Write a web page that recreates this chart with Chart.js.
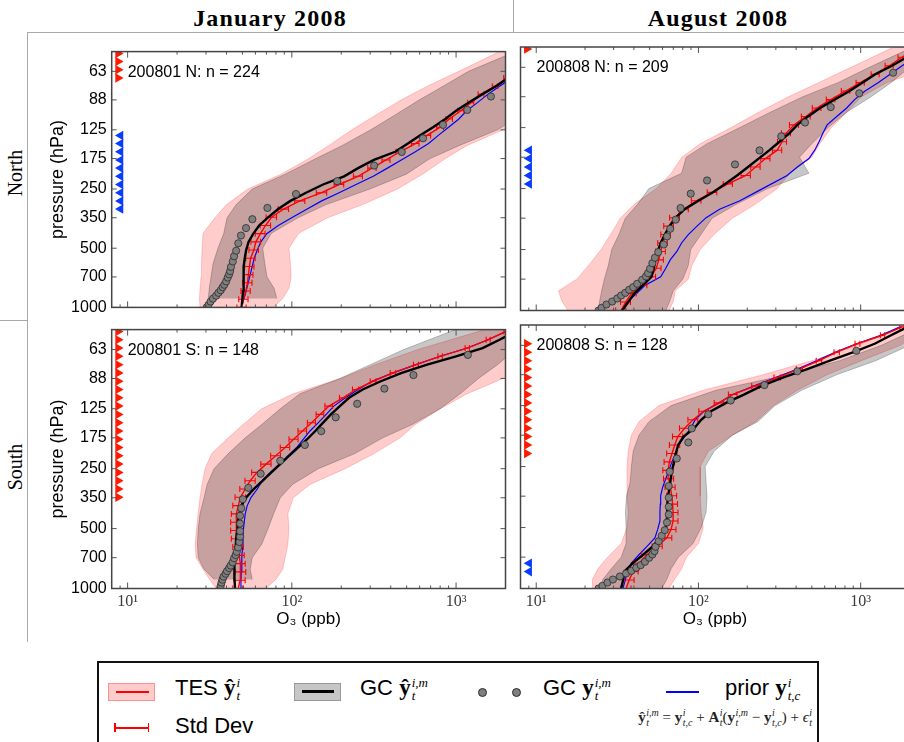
<!DOCTYPE html>
<html>
<head>
<meta charset="utf-8">
<script src="https://cdn.jsdelivr.net/npm/chart.js@4.4.1/dist/chart.umd.min.js"></script>
<style>
html,body{margin:0;padding:0;background:#fff;width:904px;height:742px;overflow:hidden;position:relative;}
canvas{position:absolute;}
.rule{position:absolute;background:#a8a8a8;}
.coltitle{position:absolute;top:6px;font-family:'Liberation Serif',serif;font-weight:bold;font-size:24px;line-height:24px;letter-spacing:1.2px;white-space:nowrap;transform:translateX(-50%);color:#000;}
.rowtitle{position:absolute;font-family:'Liberation Serif',serif;font-size:20px;line-height:20px;white-space:nowrap;transform:translate(-50%,-50%) rotate(-90deg);color:#000;}
.legbox{position:absolute;left:97px;top:661px;width:722px;height:120px;border:2px solid #111;box-sizing:border-box;}
.lt{position:absolute;font-family:'Liberation Sans',Arial,sans-serif;font-size:22px;line-height:22px;white-space:nowrap;color:#000;}
.mb{font-family:'Liberation Serif',serif;font-weight:bold;font-size:23px;}
.ss{display:inline-flex;flex-direction:column;font-family:'Liberation Serif',serif;font-style:italic;font-size:13px;line-height:13px;vertical-align:8px;margin-left:1px;}
.fm{position:absolute;font-family:'Liberation Serif',serif;font-size:15px;line-height:15px;white-space:nowrap;color:#222;}
.fm b{font-weight:bold;}
.fs{display:inline-flex;flex-direction:column;font-style:italic;font-size:10px;line-height:10px;vertical-align:6px;margin-left:0.5px;}
.dot{position:absolute;width:9px;height:9px;border-radius:50%;background:#7f7f7f;border:1px solid #2b2b2b;box-sizing:border-box;}
.blk{position:absolute;}
</style>
</head>
<body>
<div class="rule" style="left:27px;top:32px;width:877px;height:1px"></div>
<div class="rule" style="left:513px;top:0px;width:1px;height:33px"></div>
<div class="rule" style="left:27px;top:32px;width:1px;height:610px"></div>
<div class="rule" style="left:0px;top:320px;width:28px;height:1px"></div>
<div class="coltitle" style="left:270px">January 2008</div>
<div class="coltitle" style="left:718px">August 2008</div>
<div class="rowtitle" style="left:15px;top:173px">North</div>
<div class="rowtitle" style="left:15px;top:467px">South</div>

<canvas id="cTL" width="475" height="285" style="left:40px;top:37px"></canvas>
<canvas id="cTR" width="400" height="285" style="left:515px;top:37px"></canvas>
<canvas id="cBL" width="475" height="325" style="left:40px;top:315px"></canvas>
<canvas id="cBR" width="400" height="325" style="left:515px;top:315px"></canvas>

<div class="legbox"></div>
<div class="blk" style="left:108px;top:683px;width:45px;height:16px;background:rgba(255,0,0,0.2);border:1px solid rgba(255,0,0,0.3)"></div>
<div class="blk" style="left:116px;top:690.5px;width:33px;height:2px;background:#f00"></div>
<div class="lt" style="left:175px;top:676px">TES <span class="mb">ŷ</span><span class="ss"><span>i</span><span>t</span></span></div>
<div class="blk" style="left:294px;top:683px;width:45px;height:16px;background:#c6c6c6;border:1px solid #999"></div>
<div class="blk" style="left:302px;top:690px;width:32px;height:3px;background:#000"></div>
<div class="lt" style="left:360px;top:676px">GC <span class="mb">ŷ</span><span class="ss"><span>i,m</span><span>t</span></span></div>
<div class="dot" style="left:478px;top:687.5px"></div>
<div class="dot" style="left:512px;top:687.5px"></div>
<div class="lt" style="left:543px;top:676px">GC <span class="mb">y</span><span class="ss"><span>i,m</span><span>t</span></span></div>
<div class="blk" style="left:666px;top:691px;width:33px;height:1.5px;background:#00f"></div>
<div class="lt" style="left:725px;top:676px">prior <span class="mb">y</span><span class="ss"><span>i</span><span>t,c</span></span></div>
<div class="blk" style="left:114px;top:727px;width:35px;height:1.5px;background:#f00"></div>
<div class="blk" style="left:114px;top:723px;width:1.5px;height:9px;background:#f00"></div>
<div class="blk" style="left:147.5px;top:723px;width:1.5px;height:9px;background:#f00"></div>
<div class="lt" style="left:175px;top:715px">Std Dev</div>
<div class="fm" style="right:92px;top:708px"><b>ŷ</b><span class="fs"><span>i,m</span><span>t</span></span> = <b>y</b><span class="fs"><span>i</span><span>t,c</span></span> + <b>A</b><span class="fs"><span>i</span><span>t</span></span>(<b>y</b><span class="fs"><span>i,m</span><span>t</span></span> − <b>y</b><span class="fs"><span>i</span><span>t,c</span></span>) + <i>ϵ</i><span class="fs"><span>i</span><span>t</span></span></div>

<script>
// ---------- shared levels and ticks ----------
const tesLevels = [1000, 908.5, 825.4, 749.9, 681.3, 619.0, 562.3, 510.9, 464.2, 421.7, 383.1, 348.1, 316.2, 287.3, 261.0, 237.1, 215.4, 195.7, 177.8, 161.6, 146.8, 133.4, 121.2, 110.1, 100.0, 90.9, 82.5, 75.0, 68.1, 61.9, 56.2, 51.1];
const bandLevels = [1000, 900, 800, 700, 600, 500, 420, 350, 300, 250, 210, 175, 150, 125, 105, 88, 75, 63, 50];
const gcLevels = [1000, 970, 934, 903, 872, 843, 818, 790, 767, 738, 705, 679, 654, 622, 584, 549, 515, 472, 431, 395, 356, 312, 265, 228, 190, 162, 138, 118, 99, 84.6, 67];
const yTickVals = [1000, 700, 500, 350, 250, 175, 125, 88, 63];
const yTickLabels = ['1000', '700', '500', '350', '250', '175', '125', '88', '63'];
const xTickVals = [10, 100, 1000];
const xTickLabels = ['10¹', '10²', '10³'];
const xMinorTicks = [9, 20, 30, 40, 50, 60, 70, 80, 90, 200, 300, 400, 500, 600, 700, 800, 900];
const redMarkX = 8.75;
const blueMarkX = 9.05;

// ---------- January 2008, North ----------
const janN_label = '200801 N: n = 224';
const janN_tesMean = [49.5, 50.8, 52.4, 53.7, 54.4, 55.2, 56.1, 58.7, 60.4, 64.3, 69.2, 75.2, 89, 112, 152, 194, 253, 308, 375, 456, 565, 667, 800, 909, 1070, 1230, 1420, 1730, 2030, 2400, 2800, 3200];
const janN_tesStd = [3.2, 3.3, 3.4, 3.5, 3.6, 3.6, 3.7, 3.9, 4.1, 4.4, 5.0, 5.5, 6.5, 8, 11, 13, 16, 18, 21, 25, 30, 33, 38, 42, 46, 52, 58, 68, 80, 90, 100, 110];
const janN_gcHat = [49.5, 49.9, 50.6, 50.8, 50.8, 51, 51.7, 52.7, 54.5, 58.3, 63.2, 71.7, 82.6, 98, 122, 155, 208, 253, 316, 426, 509, 602, 724, 860, 1000, 1190, 1440, 1750, 2080, 2500, 2900, 3300];
const janN_prior = [49, 51, 52.7, 54.2, 55.8, 57.4, 59, 61.6, 64.8, 70.3, 82.7, 101, 124, 152, 194, 246, 313, 382, 464, 565, 680, 780, 900, 1040, 1160, 1350, 1560, 1840, 2200, 2600, 3000, 3400];
const janN_gcY = [30.3, 31.1, 32.0, 33.1, 34.6, 35.7, 36.9, 37.9, 38.8, 39.8, 40.7, 41.5, 42.1, 42.6, 43.7, 44.5, 45.8, 47.2, 49.0, 52.6, 57.5, 71, 106, 189, 317, 467, 629, 833, 1170, 1630, 2400];
const janN_tesLo = [27.6, 27.4, 27.6, 28.0, 28.2, 28.4, 28.8, 34, 40, 54, 86, 127, 168, 232, 325, 465, 667, 1040, 1840];
const janN_tesHi = [77, 88, 96, 99, 98, 96, 110, 165, 270, 440, 625, 860, 1170, 1930, 2800, 3500, 4200, 5000, 6000];
const janN_gcLo = [null, 31, 31.4, 32.2, 33.1, 35.5, 38.5, 40.3, 45.8, 57.4, 91, 140, 203, 302, 425, 598, 833, 1190, 2300];
const janN_gcHi = [null, 81, 78, 70.6, 68.5, 66.5, 75, 109, 162, 299, 498, 695, 1050, 1790, 2500, 3200, 3800, 4500, 5000];
const janN_redMarks = [68.1, 61.9, 56.2, 51.1];
const janN_blueMarks = [316.2, 287.3, 261.0, 237.1, 215.4, 195.7, 177.8, 161.6, 146.8, 133.4];

// ---------- August 2008, North ----------
const augN_label = '200808 N: n = 209';
const augN_tesMean = [33.3, 35.6, 38.6, 45, 50.9, 55, 56.9, 58.5, 60.2, 62.9, 65.6, 71.4, 81, 97, 121.5, 152, 196, 225, 259, 306, 328, 347, 389, 460, 536, 654, 808, 995, 1230, 1500, 1800, 2120];
const augN_tesStd = [2.4, 2.5, 2.7, 3.1, 3.5, 3.8, 3.9, 4.0, 4.1, 4.3, 4.5, 5, 5.6, 6.6, 8.2, 10, 13, 15, 17, 20, 21, 22, 25, 29, 33, 40, 48, 58, 70, 85, 100, 120];
const augN_gcHat = [33.9, 36.9, 40.2, 45.5, 51.3, 53.1, 54.3, 56.1, 58.5, 62, 66.5, 72.4, 82.2, 100, 123, 146, 173, 202, 235, 274, 316, 363, 407, 474, 562, 693, 854, 1024, 1230, 1560, 1920, 2340];
const augN_prior = [33.4, 36.3, 41.5, 47, 58.5, 62.9, 67, 73.6, 78.7, 86.6, 98, 111.5, 135, 180, 225, 282, 352, 407, 480, 521, 554, 585, 621, 712, 820, 917, 1065, 1280, 1520, 1800, 2150, 2500];
const augN_gcY = [24.2, 25.3, 27.1, 29.4, 31.6, 33.4, 35.4, 37.4, 39.6, 41.9, 45, 47.5, 48.9, 50.3, 52, 53.9, 56.5, 61.1, 64, 67, 72.4, 77.6, 89.6, 113, 168, 238, 324, 454, 654, 980, 1585];
const augN_tesLo = [15.7, 14.4, 13.7, 17.8, 21.0, 25.1, 28.8, 33, 40, 55, 68, 79, 102.6, 159, 235, 359, 550, 872, 1600];
const augN_tesHi = [66, 70, 72, 86.6, 91, 102.6, 125, 162, 223, 306, 366, 500, 560, 660, 820, 1010, 1450, 2700, 3500];
const augN_gcLo = [24, 24.6, 25.3, 26.3, 27.8, 29.2, 32.4, 35.4, 42, 49.5, 78.7, 84, 113, 180, 277, 440, 723, 1130, 2100];
const augN_gcHi = [63, 66.5, 70, 80, 86.6, 89.6, 104, 121.5, 170, 267, 480, 420, 500, 630, 820, 1160, 1540, 2000, 2600];
const augN_redMarks = [51.1];
const augN_blueMarks = [237.1, 215.4, 195.7, 177.8, 161.6];

// ---------- January 2008, South ----------
const janS_label = '200801 S: n = 148';
const janS_tesMean = [47.2, 48.4, 48.8, 48.4, 47.8, 47.2, 46.2, 45.8, 45.8, 46.2, 47.2, 48.7, 52, 55.8, 61.3, 69.7, 79.8, 91, 102.6, 116, 131.8, 148.5, 168, 205, 245, 313, 413, 570, 800, 1170, 1570, 2010];
const janS_tesStd = [3.5, 3.6, 3.6, 3.6, 3.5, 3.5, 3.4, 3.4, 3.4, 3.4, 3.5, 3.6, 3.8, 4.0, 4.4, 5, 5.5, 6, 6.5, 7, 7.5, 8, 9, 10, 11, 13, 16, 20, 25, 35, 45, 55];
const janS_gcHat = [45.1, 44.8, 44.6, 44.8, 45.1, 45.5, 45.8, 46.5, 46.8, 47.9, 49.2, 52.9, 58.6, 66.5, 75, 85, 96, 109, 124, 139, 155, 173, 196, 223, 270, 348, 467, 667, 1000, 1450, 1840, 2300];
const janS_prior = [48.8, 49, 49.2, 49.5, 49.7, 50.2, 50.4, 50.6, 51.3, 52, 53.5, 56.5, 61.6, 66, 74, 83.8, 94.6, 107, 117.6, 129, 145, 162, 180, 212, 253, 308, 413, 570, 800, 1170, 1570, 2010];
const janS_gcY = [36.6, 36.9, 37.3, 37.8, 38.4, 39.5, 40.3, 41.5, 42.4, 43.6, 44.5, 45.5, 46.2, 47.1, 47.9, 48.4, 48.4, 48.4, 48.4, 49.2, 50.3, 54.3, 64.6, 85, 120, 151, 185, 250, 366, 550, 1180];
const janS_tesLo = [34.6, 31.6, 28.8, 26.1, 25.8, 26.3, 26.9, 27.6, 28.4, 29.6, 32.5, 41, 50.5, 65.5, 102, 198, 322, 584, 1500];
const janS_tesHi = [69.5, 80, 88, 91, 94.6, 96, 94.6, 102, 129, 211, 317, 456, 565, 800, 1170, 1930, 2600, 3200, 4000];
const janS_gcLo = [null, 33.6, 29.2, 26.9, 26.6, 26.9, 27.6, 29.2, 30.5, 33.6, 41, 52, 65.5, 85, 112, 196, 300, 480, 990];
const janS_gcHi = [null, 57.4, 55.8, 57.4, 65.5, 71.7, 77.6, 85, 101, 145, 242, 358, 540, 800, 1060, 1370, 1790, 2300, 3000];
const janS_redMarks = [348.1, 316.2, 287.3, 261.0, 237.1, 215.4, 195.7, 177.8, 161.6, 146.8, 133.4, 121.2, 110.1, 100.0, 90.9, 82.5, 75.0, 68.1, 61.9, 56.2, 51.1];
const janS_blueMarks = [];

// ---------- August 2008, South ----------
const augS_label = '200808 S: n = 128';
const augS_tesMean = [35.8, 37.4, 39.6, 43, 48.2, 55.8, 63.9, 67.8, 69.8, 69.8, 69.3, 68.5, 67, 65.6, 65, 66.2, 68.7, 71.4, 74.6, 82.2, 92.6, 108, 134, 163, 225, 306, 419, 554, 712, 956, 1365, 1800];
const augS_tesStd = [2.6, 2.7, 2.9, 3.1, 3.5, 4, 4.6, 4.9, 5, 5, 5, 4.9, 4.8, 4.7, 4.7, 4.8, 5, 5.2, 5.4, 5.8, 6.5, 7.5, 9, 10, 12, 14, 18, 22, 27, 33, 42, 55];
const augS_gcHat = [33.4, 34.3, 34.9, 39.4, 45.6, 52.3, 57.9, 62.7, 63.9, 64.1, 64.3, 65, 66.4, 67.5, 68.7, 70.8, 72.5, 75, 81, 94.3, 104, 119.5, 148, 192, 245, 331, 468, 646, 904, 1220, 1540, 1950];
const augS_prior = [34.2, 35.4, 36.3, 38.6, 43, 48.2, 53.9, 56.1, 57.9, 57.9, 58.2, 58.5, 60.2, 62.9, 65.6, 68.7, 72.2, 75.3, 82.2, 89.6, 95.5, 108, 134, 163, 219, 298, 408, 538, 700, 943, 1330, 1750];
const augS_gcY = [24.2, 25.6, 27.5, 29.7, 32.8, 35.8, 38.6, 41.4, 44, 46.8, 49.7, 52, 53.6, 54.4, 56.9, 59.4, 62, 64, 65.6, 65.6, 65.6, 65.6, 66.5, 73.5, 86.6, 91, 115, 158, 255, 407, 940];
const augS_tesLo = [22.2, 22.2, 24, 27.5, 33.4, 36.3, 37, 36.3, 36.3, 36.3, 36.9, 38.6, 43, 57, 107, 250, 500, 956, 1900];
const augS_tesHi = [65.6, 71.4, 78.7, 84.3, 100, 107, 104, 102.6, 102.6, 102.6, 115, 162, 225, 290, 407, 621, 1010, 1760, 2600];
const augS_gcLo = [24.6, 25.8, 29, 33.4, 35.8, 35.8, 35.5, 36, 37.9, 38.6, 39.6, 43, 49.5, 67.8, 128, 352, 741, 1340, 2500];
const augS_gcHi = [59.4, 63.9, 67.8, 75.3, 92.6, 104, 111.5, 113, 111.5, 110, 125, 162, 232, 297, 433, 712, 1240, 2000, 2800];
const augS_redMarks = [215.4, 195.7, 177.8, 161.6, 146.8, 133.4, 121.2, 110.1, 100.0, 90.9, 82.5, 75.0, 68.1, 61.9];
const augS_blueMarks = [825.4, 749.9];

// ---------- helpers ----------
Chart.defaults.font.family = "'Liberation Sans', Arial, sans-serif";
Chart.defaults.color = '#000';

function toPts(xs, ps) {
  const out = [];
  for (let i = 0; i < xs.length; i++) {
    if (xs[i] !== null && xs[i] !== undefined) out.push({x: xs[i], y: ps[i]});
  }
  return out;
}
function toBand(lo, hi, ps) {
  return toPts(lo, ps).concat(toPts(hi, ps).reverse());
}

function makePanel(canvasId, d, L) {
  const plugin = {
    id: 'panel_' + canvasId,
    afterDatasetDraw(chart, args) {
      const ds = chart.data.datasets[args.index];
      if (ds.role !== 'tes') return;
      const {ctx, chartArea: a, scales: {x, y}} = chart;
      ctx.save();
      ctx.beginPath(); ctx.rect(a.left, a.top, a.right - a.left, a.bottom - a.top); ctx.clip();
      ctx.strokeStyle = '#ff0000'; ctx.lineWidth = 1.1;
      d.tesMean.forEach((m, i) => {
        const s = d.tesStd[i];
        const py = y.getPixelForValue(tesLevels[i]);
        const x1 = x.getPixelForValue(m - s), x2 = x.getPixelForValue(m + s);
        ctx.beginPath();
        ctx.moveTo(x1, py); ctx.lineTo(x2, py);
        ctx.moveTo(x1, py - 3); ctx.lineTo(x1, py + 3);
        ctx.moveTo(x2, py - 3); ctx.lineTo(x2, py + 3);
        ctx.stroke();
      });
      ctx.restore();
    },
    afterDraw(chart) {
      const {ctx, chartArea: a, scales: {x, y}} = chart;
      ctx.save();
      ctx.strokeStyle = '#555'; ctx.lineWidth = 1;
      const seg = (x1, y1, x2, y2) => { ctx.beginPath(); ctx.moveTo(x1, y1); ctx.lineTo(x2, y2); ctx.stroke(); };
      xTickVals.forEach(v => { const px = x.getPixelForValue(v); seg(px, a.bottom, px, a.bottom - 6); seg(px, a.top, px, a.top + 6); });
      xMinorTicks.forEach(v => { const px = x.getPixelForValue(v); seg(px, a.bottom, px, a.bottom - 3); seg(px, a.top, px, a.top + 3); });
      yTickVals.forEach(v => { const py = y.getPixelForValue(v); seg(a.left, py, a.left + 5, py); seg(a.right, py, a.right - 5, py); });
      ctx.strokeStyle = '#444'; ctx.lineWidth = 1.5;
      ctx.strokeRect(a.left, a.top, a.right - a.left, a.bottom - a.top);
      ctx.fillStyle = '#000';
      ctx.font = "16px 'Liberation Sans', Arial, sans-serif";
      ctx.textBaseline = 'middle'; ctx.textAlign = 'left';
      ctx.fillText(d.label, a.left + 16, a.top + 21);
      ctx.restore();
    }
  };

  new Chart(document.getElementById(canvasId), {
    type: 'line',
    data: {
      datasets: [
        {role: 'tesBand', data: toBand(d.tesLo, d.tesHi, bandLevels), fill: 'shape',
         backgroundColor: 'rgba(255,0,0,0.2)', borderColor: 'rgba(255,40,40,0.3)', borderWidth: 0.8,
         pointRadius: 0, order: 10, clip: 0},
        {role: 'gcBand', data: toBand(d.gcLo, d.gcHi, bandLevels), fill: 'shape',
         backgroundColor: 'rgba(0,0,0,0.22)', borderColor: 'rgba(0,0,0,0.28)', borderWidth: 0.8,
         pointRadius: 0, order: 9, clip: 0},
        {role: 'prior', data: toPts(d.prior, tesLevels), borderColor: '#0000ff', borderWidth: 1.2,
         pointRadius: 0, fill: false, order: 6, clip: 0},
        {role: 'tes', data: toPts(d.tesMean, tesLevels), borderColor: '#ff0000', borderWidth: 1.4,
         pointRadius: 0, fill: false, order: 5, clip: 0},
        {role: 'gcHat', data: toPts(d.gcHat, tesLevels), borderColor: '#000000', borderWidth: 2.4,
         pointRadius: 0, fill: false, order: 4, clip: 0},
        {role: 'gcY', data: toPts(d.gcY, gcLevels), showLine: false, pointRadius: 3.6,
         pointBackgroundColor: '#7f7f7f', pointBorderColor: '#2b2b2b', pointBorderWidth: 0.8, order: 3, clip: 0},
        {role: 'red', data: d.redMarks.map(p => ({x: redMarkX, y: p})), showLine: false,
         pointStyle: 'triangle', pointRotation: 90, pointRadius: 5.5,
         pointBackgroundColor: '#ff1a00', pointBorderColor: '#ff1a00', pointBorderWidth: 0, order: 2},
        {role: 'blue', data: d.blueMarks.map(p => ({x: blueMarkX, y: p})), showLine: false,
         pointStyle: 'triangle', pointRotation: -90, pointRadius: 5.5,
         pointBackgroundColor: '#0a3cff', pointBorderColor: '#0a3cff', pointBorderWidth: 0, order: 1}
      ]
    },
    options: {
      responsive: false, animation: false, events: [],
      layout: {padding: {left: 0, top: L.padTop, right: L.padRight, bottom: 0}},
      plugins: {legend: {display: false}, tooltip: {enabled: false}},
      scales: {
        x: {
          type: 'logarithmic', position: 'bottom', min: 8, max: 2000,
          grid: {display: false, drawTicks: false}, border: {display: false},
          afterBuildTicks: (s) => { s.ticks = xTickVals.map(v => ({value: v})); },
          afterFit: (s) => { s.height = L.xH; },
          ticks: {display: L.showX, autoSkip: false, maxRotation: 0, padding: 4, color: '#3a3a3a',
                  font: {family: "'Liberation Serif', serif", size: 16},
                  callback: (v, i) => xTickLabels[i]},
          title: {display: L.showX, text: 'O₃ (ppb)', color: '#000', font: {size: 17},
                  padding: {top: 0, bottom: 10}}
        },
        y: {
          type: 'logarithmic', position: 'left', min: 50, max: 1000, reverse: true,
          grid: {display: false, drawTicks: false}, border: {display: false},
          afterBuildTicks: (s) => { s.ticks = yTickVals.map(v => ({value: v})); },
          afterFit: (s) => { s.width = L.yW; },
          ticks: {display: L.showY, autoSkip: false, padding: 5, color: '#000', font: {size: 16},
                  callback: (v, i) => yTickLabels[i]},
          title: {display: L.showY, text: 'pressure (hPa)', color: '#000', font: {size: 18},
                  padding: {top: 7, bottom: 0}}
        }
      }
    },
    plugins: [plugin]
  });
}

makePanel('cTL', {label: janN_label, tesMean: janN_tesMean, tesStd: janN_tesStd, gcHat: janN_gcHat, prior: janN_prior, gcY: janN_gcY,
  tesLo: janN_tesLo, tesHi: janN_tesHi, gcLo: janN_gcLo, gcHi: janN_gcHi, redMarks: janN_redMarks, blueMarks: janN_blueMarks},
  {yW: 71.7, xH: 11.5, padTop: 10, padRight: 9.5, showX: false, showY: true});
makePanel('cTR', {label: augN_label, tesMean: augN_tesMean, tesStd: augN_tesStd, gcHat: augN_gcHat, prior: augN_prior, gcY: augN_gcY,
  tesLo: augN_tesLo, tesHi: augN_tesHi, gcLo: augN_gcLo, gcHi: augN_gcHi, redMarks: augN_redMarks, blueMarks: augN_blueMarks},
  {yW: 4.5, xH: 11.5, padTop: 10, padRight: 1.7, showX: false, showY: false});
makePanel('cBL', {label: janS_label, tesMean: janS_tesMean, tesStd: janS_tesStd, gcHat: janS_gcHat, prior: janS_prior, gcY: janS_gcY,
  tesLo: janS_tesLo, tesHi: janS_tesHi, gcLo: janS_gcLo, gcHi: janS_gcHi, redMarks: janS_redMarks, blueMarks: janS_blueMarks},
  {yW: 71.7, xH: 51.5, padTop: 10, padRight: 9.5, showX: true, showY: true});
makePanel('cBR', {label: augS_label, tesMean: augS_tesMean, tesStd: augS_tesStd, gcHat: augS_gcHat, prior: augS_prior, gcY: augS_gcY,
  tesLo: augS_tesLo, tesHi: augS_tesHi, gcLo: augS_gcLo, gcHi: augS_gcHi, redMarks: augS_redMarks, blueMarks: augS_blueMarks},
  {yW: 4.5, xH: 51.5, padTop: 10, padRight: 1.7, showX: true, showY: false});
</script>
</body>
</html>
